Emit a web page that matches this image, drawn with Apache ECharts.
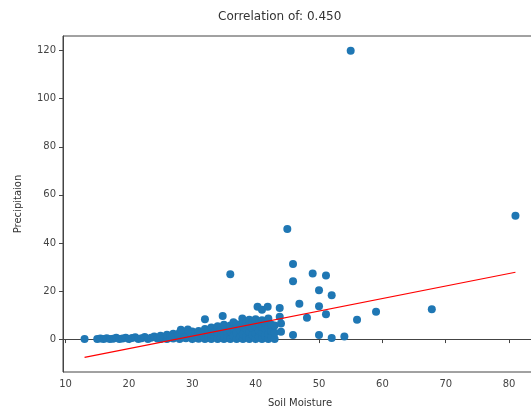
<!DOCTYPE html>
<html>
<head>
<meta charset="utf-8">
<script src="https://cdn.jsdelivr.net/npm/echarts@6/dist/echarts.min.js"></script>
<style>
  html, body { margin: 0; padding: 0; background: #fff; }
  #main { width: 531px; height: 411px; }
</style>
</head>
<body>
<div id="main"></div>
<script>
// 散点 + 回归线
const soilMoisture = [
  13, 15, 15.5, 16, 16.5, 17, 17.5, 18, 18.5, 19, 19.5, 20, 20.5, 21, 21.5, 22, 22.5, 23, 23.5, 24, 24.5, 25, 25,
  25.5, 26, 26, 26.5, 27, 27, 27.5, 28, 28, 28.5, 29, 29, 29.5, 30, 30, 30.5, 30.5, 31, 31, 31.5, 32, 32, 32, 32,
  26.8, 27.8, 28.8, 29.8, 30.8, 31.8, 29.3, 30.2, 31.3, 28.2,
  32.5, 32.5, 33, 33, 33, 33.5, 33.5, 34, 34, 34, 34.5, 34.5, 34.8, 35, 35, 35, 35, 35.5, 35.5, 36, 36, 36, 36,
  36.5, 36.5, 36.5, 37, 37, 37, 37.5, 37.5, 37.9, 38, 38, 38, 38, 38.5, 38.5, 38.5, 39, 39, 39, 39, 39.5, 39.5, 39.5,
  40, 40, 40, 40, 40.3, 40.5, 40.5, 40.5, 41, 41, 41, 41, 41, 41.5, 41.5, 41.5, 41.9, 42, 42, 42, 42, 42.5, 42.5, 42.5,
  43, 43, 43, 43.8, 43.8, 44, 44,
  45, 45.9, 45.9, 45.9, 46.9, 48.1, 49, 50, 50, 50, 51.1, 51.1, 52, 52, 54, 55, 56, 59, 67.8, 81
]
const precipitation = [
  0, 0, 0.2, 0, 0.3, 0, 0.1, 0.5, 0, 0.2, 0.6, 0, 0.4, 0.8, 0, 0.3, 0.9, 0, 0.5, 1.1, 0.2, 0, 1.4,
  0.6, 0, 1.8, 0.9, 0.2, 2.2, 1.2, 0, 2.6, 1.0, 0.3, 2.9, 1.6, 0, 3.1, 0.8, 2.0, 0.1, 3.4, 1.4, 0, 2.5, 4.2, 8.2,
  0.5, 1.5, 0.7, 2.1, 1.3, 1.0, 4.0, 0.4, 2.7, 3.9,
  0.7, 3.6, 0, 1.9, 4.8, 1.1, 3.0, 0, 2.4, 5.3, 0.5, 3.8, 9.6, 0, 1.5, 4.4, 6.0, 2.8, 0.4, 0, 3.3, 5.6, 27,
  1.2, 4.7, 7.0, 0, 2.5, 6.2, 0.6, 3.9, 8.6, 0, 2.0, 5.1, 7.4, 1.0, 4.2, 6.6, 0, 3.0, 5.8, 8.0, 1.6, 4.6, 7.2,
  0, 2.4, 5.2, 8.2, 13.4, 1.0, 3.6, 6.4, 0, 2.8, 5.0, 7.8, 12.2, 1.4, 4.2, 6.8, 13.4, 0, 2.2, 4.8, 8.6, 1.0, 3.4, 6.0,
  0, 2.6, 5.6, 12.9, 9.3, 6.5, 3,
  45.8, 31.2, 24.1, 1.7, 14.7, 8.9, 27.3, 20.3, 13.7, 1.7, 26.5, 10.3, 18.2, 0.4, 1.1, 120, 8, 11.4, 12.4, 51.3
]
// 回归线两端
const fitX = [13, 81]
const fitY = [-7.6, 27.8]
const xTicks = [10, 20, 30, 40, 50, 60, 70, 80]
const yTicks = [0, 20, 40, 60, 80, 100, 120]

let myChart = echarts.init(document.getElementById('main'))
const font = 'DejaVu Sans'
const axisColor = '#444'

let option = {
  animation: false,
  backgroundColor: '#fff',
  title: {
    text: 'Correlation of: 0.450',
    left: 218,
    top: 11,
    padding: 0,
    textStyle: { fontFamily: font, fontSize: 12, fontWeight: 'normal', color: '#333' }
  },
  grid: {
    left: 63,
    right: -6,
    top: 36,
    bottom: 39,
    show: true,
    borderColor: axisColor,
    borderWidth: 1,
    outerBoundsMode: 'none'
  },
  xAxis: {
    type: 'value',
    min: 9.6,
    max: 84.4,
    name: 'Soil Moisture',
    nameLocation: 'middle',
    nameGap: 26,
    nameTextStyle: { fontFamily: font, fontSize: 10, color: '#333' },
    splitLine: { show: false },
    axisLine: { lineStyle: { color: axisColor } },
    axisTick: { show: true, length: 4, customValues: xTicks, lineStyle: { color: axisColor } },
    axisLabel: { customValues: xTicks, fontFamily: font, fontSize: 10, color: '#444', margin: 7 }
  },
  yAxis: {
    type: 'value',
    min: -13.7,
    max: 126.1,
    name: 'Precipitaion',
    nameLocation: 'middle',
    nameGap: 40,
    nameTextStyle: { fontFamily: font, fontSize: 10, color: '#333' },
    splitLine: { show: false },
    axisLine: { show: true, lineStyle: { color: axisColor } },
    axisTick: { show: true, length: 4, customValues: yTicks, lineStyle: { color: axisColor } },
    axisLabel: { customValues: yTicks, fontFamily: font, fontSize: 10, color: '#444', margin: 7 }
  },
  series: [
    {
      name: 'points',
      type: 'scatter',
      symbolSize: 8,
      itemStyle: { color: '#1f77b4', opacity: 1 },
      data: soilMoisture.map((x, i) => [x, precipitation[i]]),
      z: 2
    },
    {
      name: 'fit',
      type: 'line',
      symbol: 'none',
      lineStyle: { color: '#ff0000', width: 1.2 },
      data: fitX.map((x, i) => [x, fitY[i]]),
      z: 3
    }
  ]
}

myChart.setOption(option)
window.addEventListener('resize', function () {
  myChart.resize()
}, false)
</script>
</body>
</html>
